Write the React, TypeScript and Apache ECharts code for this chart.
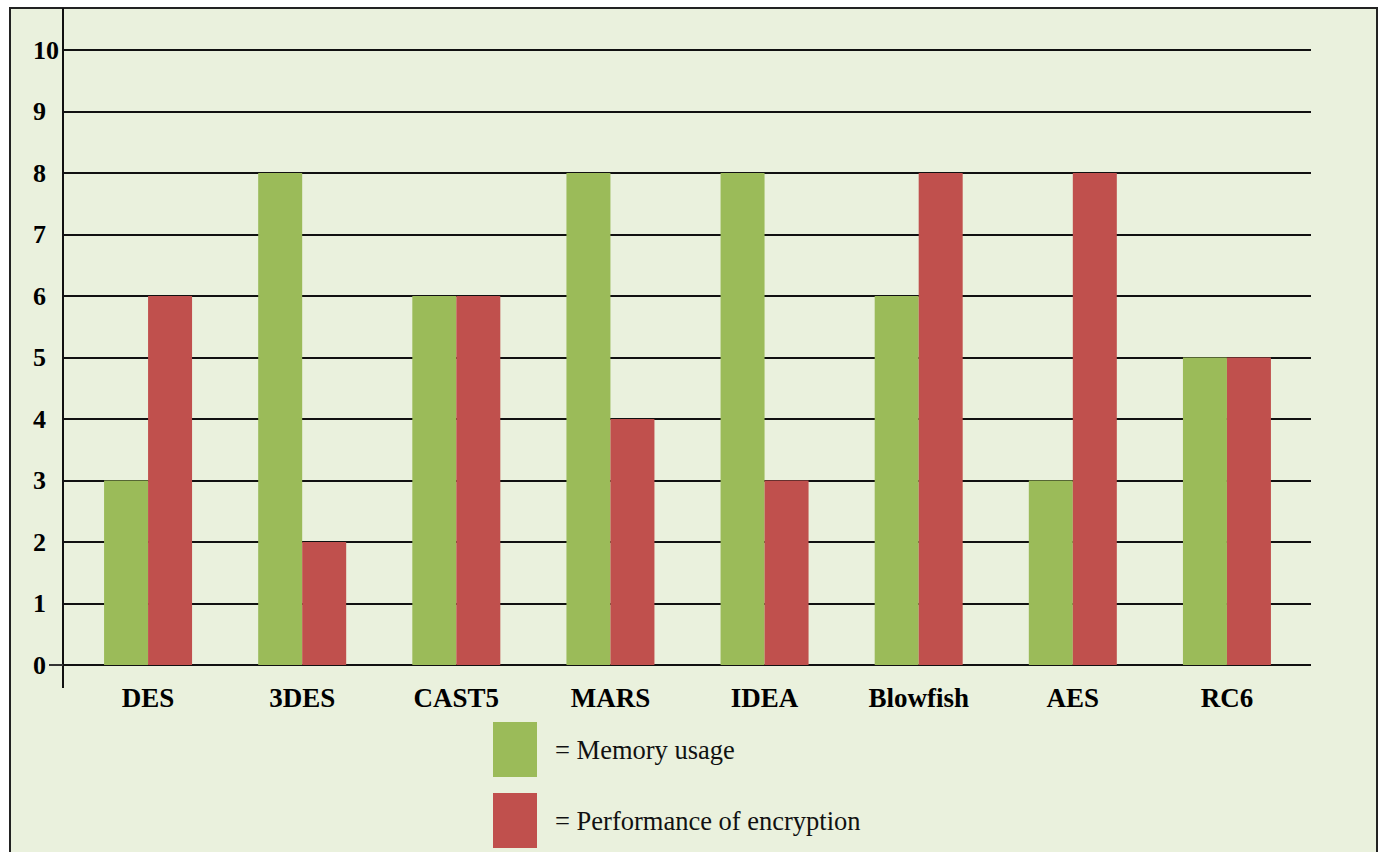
import React, { useEffect, useRef } from "react";
import * as echarts from "echarts";

const categories = ["DES", "3DES", "CAST5", "MARS", "IDEA", "Blowfish", "AES", "RC6"];
const memoryUsage = [3, 8, 6, 8, 8, 6, 3, 5];
const encryptionPerf = [6, 2, 6, 4, 3, 8, 8, 5];
const seriesNames = ["Memory usage", "Performance of encryption"];
const colors = ["#9BBB59", "#C0504D"];

const FONT = '"Liberation Serif", "Times New Roman", serif';

export default function App() {
  const ref = useRef<HTMLDivElement>(null);

  useEffect(() => {
    if (!ref.current) return;
    const chart = echarts.init(ref.current, undefined, { renderer: "svg" });
    chart.setOption({
      animation: false,
      backgroundColor: "#ffffff",
      color: colors,
      graphic: [
        {
          type: "rect",
          z: -10,
          silent: true,
          shape: { x: 10, y: 8, width: 1367, height: 900 },
          style: { fill: "#EAF1DD", stroke: "#222", lineWidth: 2 },
        },
        {
          type: "line",
          z: 10,
          shape: { x1: 63, y1: 8, x2: 63, y2: 688 },
          style: { stroke: "#111", lineWidth: 2 },
        },
        {
          type: "line",
          z: 10,
          shape: { x1: 49, y1: 665, x2: 63, y2: 665 },
          style: { stroke: "#333", lineWidth: 2 },
        },
      ],
      grid: [
        { left: 63, right: 68, top: 50, bottom: 187 },
        { left: 71, right: 75, top: 50, bottom: 187 },
      ],
      legend: {
        orient: "vertical",
        left: 493,
        top: 722,
        padding: 0,
        itemWidth: 44,
        itemHeight: 55,
        itemGap: 16,
        icon: "rect",
        data: [
          {
            name: seriesNames[0],
            textStyle: { padding: [16, 0, 0, 13] },
          },
          {
            name: seriesNames[1],
            textStyle: { padding: [0, 0, 0, 13] },
          },
        ],
        formatter: "= {name}",
        textStyle: {
          fontFamily: FONT,
          fontSize: 26.5,
          color: "#111",
          padding: [0, 0, 0, 13],
        },
      },
      xAxis: [
        {
          gridIndex: 0,
          type: "category",
          data: categories,
          show: false,
        },
        {
          gridIndex: 1,
          type: "category",
          data: categories,
          axisLine: { show: false },
          axisTick: { show: false },
          axisLabel: {
            fontFamily: FONT,
            fontWeight: "bold",
            fontSize: 27,
            color: "#000",
            margin: 19,
          },
        },
      ],
      yAxis: [
        {
          gridIndex: 0,
          type: "value",
          min: 0,
          max: 10,
          interval: 1,
          axisLine: { show: false },
          axisTick: { show: false },
          axisLabel: {
            fontFamily: FONT,
            fontWeight: "bold",
            fontSize: 26,
            color: "#000",
            margin: 30,
            align: "left",
          },
          splitLine: { lineStyle: { color: "#111", width: 2 } },
        },
        {
          gridIndex: 1,
          type: "value",
          min: 0,
          max: 10,
          interval: 1,
          show: false,
          splitLine: { show: false },
        },
      ],
      series: [
        {
          name: seriesNames[0],
          type: "bar",
          xAxisIndex: 1,
          yAxisIndex: 1,
          data: memoryUsage,
          barWidth: 44,
          barGap: "0%",
          itemStyle: { color: colors[0] },
        },
        {
          name: seriesNames[1],
          type: "bar",
          xAxisIndex: 1,
          yAxisIndex: 1,
          data: encryptionPerf,
          barWidth: 44,
          barGap: "0%",
          itemStyle: { color: colors[1] },
        },
      ],
    });
    return () => chart.dispose();
  }, []);

  return (
    <div
      ref={ref}
      style={{ position: "fixed", left: 0, top: 0, width: 1379, height: 852 }}
    />
  );
}
